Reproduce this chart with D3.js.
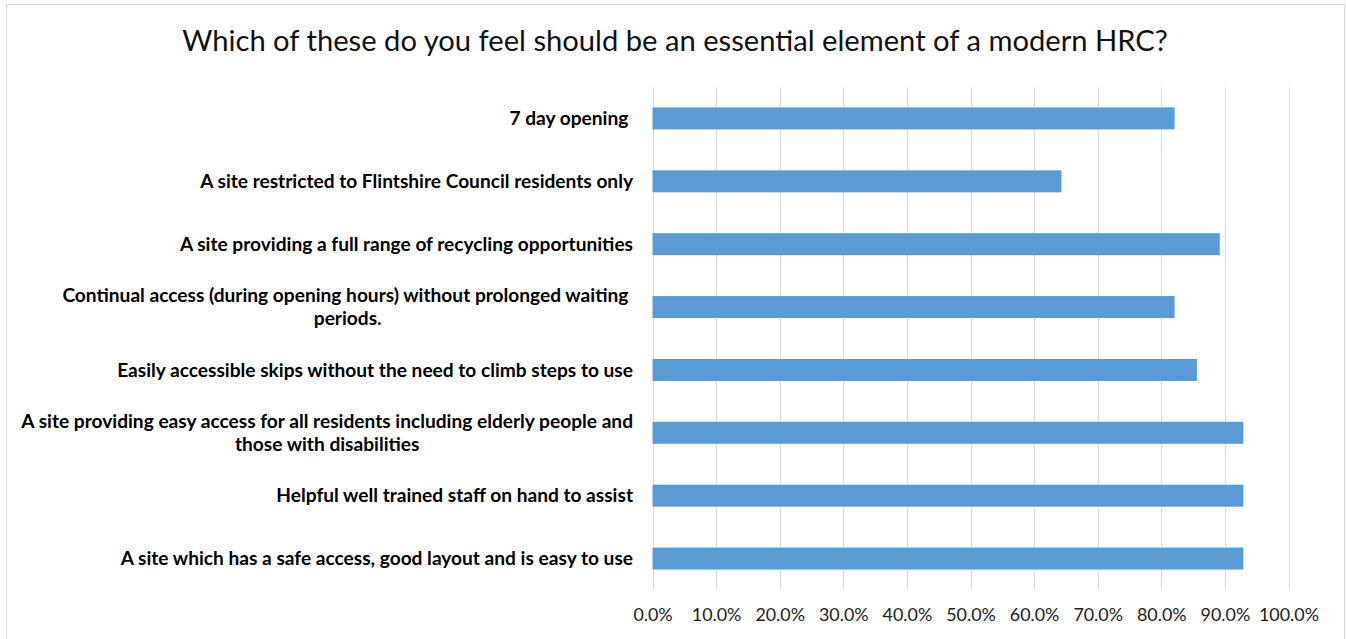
<!DOCTYPE html>
<html>
<head>
<meta charset="utf-8">
<script src="https://cdn.jsdelivr.net/npm/d3@7/dist/d3.min.js"></script>
<style>
  html, body { margin: 0; padding: 0; background: #fff; }
  svg { display: block; }
  .cat { white-space: pre; }
</style>
</head>
<body>
<svg id="chart" width="1346" height="639"></svg>
<script>
// Survey question shown as the chart heading
const title = "Which of these do you feel should be an essential element of a modern HRC?";

// Answer options (line breaks mark where long labels wrap)
const categories = [
  "7 day opening ",
  "A site restricted to Flintshire Council residents only",
  "A site providing a full range of recycling opportunities",
  "Continual access (during opening hours) without prolonged waiting \nperiods.",
  "Easily accessible skips without the need to climb steps to use",
  "A site providing easy access for all residents including elderly people and\nthose with disabilities",
  "Helpful well trained staff on hand to assist",
  "A site which has a safe access, good layout and is easy to use"
];

// Share of respondents choosing each option
const values = [0.821, 0.643, 0.892, 0.821, 0.856, 0.929, 0.929, 0.929];

// Axis ticks
const tickValues = [0, 0.1, 0.2, 0.3, 0.4, 0.5, 0.6, 0.7, 0.8, 0.9, 1.0];

const W = 1346, H = 639;
const plot = { left: 652.5, right: 1288.5, top: 87, bottom: 590 };
const FONT = "Lato, 'Open Sans', 'DejaVu Sans', sans-serif";

const svg = d3.select("#chart");

// Chart frame
svg.append("rect")
  .attr("x", 6.5).attr("y", 4.5)
  .attr("width", 1338).attr("height", 645)
  .attr("fill", "#fff").attr("stroke", "#d9d9d9").attr("stroke-width", 1);

const x = d3.scaleLinear().domain([0, 1]).range([plot.left, plot.right]);
const y = d3.scaleBand().domain(categories)
  .range([plot.top, plot.bottom])
  .paddingInner(0.65).paddingOuter(0.325);

// Fit a text element's width to a target by adjusting its font size
function fitSize(sample, weight, base, target) {
  const t = svg.append("text").attr("font-family", FONT)
    .attr("font-weight", weight).attr("font-size", base).text(sample);
  const w = t.node().getComputedTextLength();
  t.remove();
  return base * target / w;
}

// Vertical gridlines
svg.append("g").selectAll("line").data(tickValues).join("line")
  .attr("x1", d => Math.round(x(d)) + 0.5).attr("x2", d => Math.round(x(d)) + 0.5)
  .attr("y1", plot.top).attr("y2", plot.bottom)
  .attr("stroke", "#d9d9d9").attr("stroke-width", 1);

// Bars
svg.append("g").selectAll("rect").data(categories).join("rect")
  .attr("x", x(0))
  .attr("y", d => y(d))
  .attr("width", (d, i) => x(values[i]) - x(0))
  .attr("height", y.bandwidth())
  .attr("fill", "#5b9bd5");

// Bottom axis labels
const tickSize = fitSize("100.0%", 400, 16, 60);
const xAxis = d3.axisBottom(x).tickValues(tickValues)
  .tickFormat(d3.format(".1%")).tickSize(0).tickPadding(0);
const gx = svg.append("g").attr("transform", `translate(0, ${plot.bottom})`).call(xAxis);
gx.select(".domain").remove();
gx.selectAll("text")
  .attr("y", 31)
  .attr("dy", null)
  .attr("font-family", FONT).attr("font-size", tickSize)
  .attr("fill", "#222");

// Category labels, right-aligned as blocks, each block centred internally
const labelSize = fitSize("A site providing easy access for all residents including elderly people and", 700, 16, 612);
const lineH = 23;
const labelRight = 633;
const gy = svg.append("g");
categories.forEach(c => {
  const lines = c.split("\n");
  const cy = y(c) + y.bandwidth() / 2;
  const g = gy.append("g");
  const texts = lines.map((ln, k) => g.append("text")
    .attr("class", "cat")
    .attr("font-family", FONT).attr("font-weight", 700)
    .attr("font-size", labelSize).attr("fill", "#000")
    .attr("text-anchor", "middle")
    .attr("y", cy + (k - (lines.length - 1) / 2) * lineH)
    .attr("dy", "0.35em")
    .text(ln));
  const widths = texts.map(t => t.node().getComputedTextLength());
  const blockW = d3.max(widths);
  texts.forEach(t => t.attr("x", labelRight - blockW / 2));
});

// Title
const titleSize = fitSize(title, 400, 24, 986);
svg.append("text")
  .attr("x", 675).attr("y", 51)
  .attr("text-anchor", "middle")
  .attr("font-family", FONT).attr("font-size", titleSize)
  .attr("fill", "#111")
  .text(title);
</script>
</body>
</html>
